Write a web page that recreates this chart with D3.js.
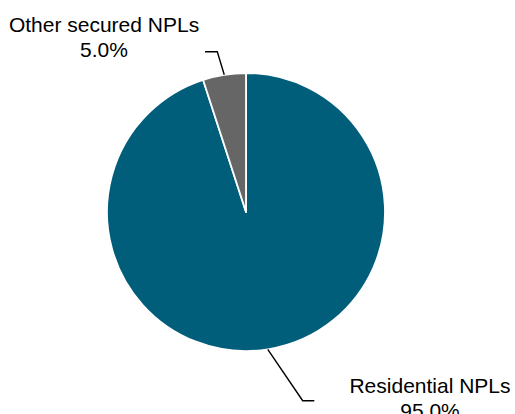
<!DOCTYPE html>
<html>
<head>
<meta charset="utf-8">
<script src="https://cdn.jsdelivr.net/npm/d3@7"></script>
<style>
html,body{margin:0;padding:0;background:#fff;}
svg{display:block;}
text{font-family:"Liberation Sans",Arial,sans-serif;fill:#000;}
</style>
</head>
<body>
<svg id="chart" width="515" height="414"></svg>
<script>
const categories = ["Residential NPLs", "Other secured NPLs"];
const values = [95.0, 5.0];
const valueLabels = ["95.0%", "5.0%"];
const colors = ["#005E7A", "#666666"];

const svg = d3.select("#chart");
const cx = 246, cy = 212, r = 139;
const g = svg.append("g").attr("transform", `translate(${cx},${cy})`);

const pie = d3.pie().sort(null).value(d => d)(values);
const arc = d3.arc().innerRadius(0).outerRadius(r);

g.selectAll("path.slice").data(pie).enter().append("path")
  .attr("class","slice")
  .attr("d", arc)
  .attr("fill", (d,i) => colors[i])
  .attr("stroke", "#fff")
  .attr("stroke-width", 1.8)
  .attr("stroke-linejoin","round");

// label layouts (leader elbow and text anchor, relative to centre)
const layout = [
  {elbow:[56.7, 188.7], end:[68.3, 188.7], text:[184, 180.5]},
  {elbow:[-28.7, -160.3], end:[-41, -160.3], text:[-142, -180.5]}
];

pie.forEach((d,i) => {
  const a = (d.startAngle + d.endAngle)/2;
  const p0 = [r*Math.sin(a), -r*Math.cos(a)];
  const L = layout[i];
  g.append("polyline")
    .attr("points", [p0, L.elbow, L.end].map(p => p.join(",")).join(" "))
    .attr("fill","none")
    .attr("stroke","#000")
    .attr("stroke-width",1.4);
  const t = g.append("text")
    .attr("text-anchor","middle")
    .attr("font-size", 21);
  t.append("tspan").attr("x", L.text[0]).attr("y", L.text[1]).text(categories[i]);
  t.append("tspan").attr("x", L.text[0]).attr("y", L.text[1]+25).text(valueLabels[i]);
});
</script>
</body>
</html>
